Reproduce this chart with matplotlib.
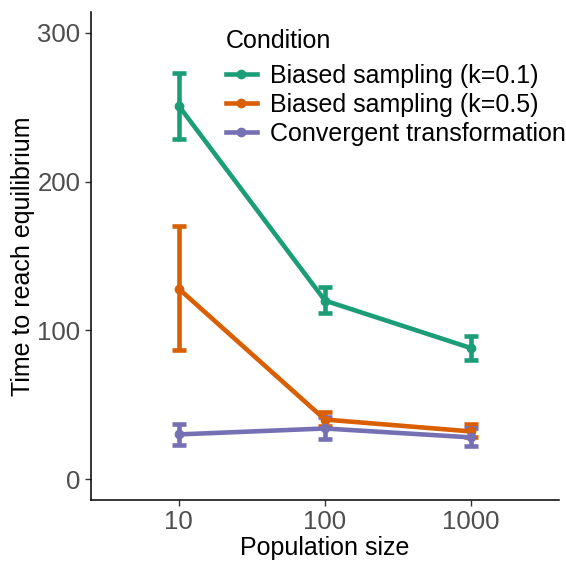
import matplotlib.pyplot as plt
from matplotlib.lines import Line2D

plt.rcParams['font.family'] = ['Liberation Sans', 'DejaVu Sans']

sizes = ['10', '100', '1000']
conditions = ['Biased sampling (k=0.1)', 'Biased sampling (k=0.5)',
              'Convergent transformation']
colors = ['#1B9E77', '#D95F02', '#7570B3']

# mean, lower, upper per condition
means = [[251, 120, 88], [128, 40, 32], [30, 34, 28]]
lower = [[229, 112, 80], [87, 36, 28], [23, 27, 22]]
upper = [[273, 129, 96], [170, 45, 37], [37, 42, 34]]

fig = plt.figure(figsize=(5.66, 5.61), dpi=100)
ax = fig.add_axes([91/566, 61/561, 468/566, 488/561])

x = list(range(len(sizes)))
handles = []
for cond, col, m, lo, hi in zip(conditions, colors, means, lower, upper):
    err = [[mm - l for mm, l in zip(m, lo)], [h - mm for mm, h in zip(m, hi)]]
    ax.errorbar(x, m, yerr=err, fmt='none', ecolor=col, elinewidth=3.3,
                capsize=5, capthick=3.3, zorder=2)
    ax.plot(x, m, color=col, lw=3.3, marker='o', ms=6, zorder=3)
    handles.append(Line2D([], [], color=col, lw=3.3, marker='o', ms=6))

ax.set_xlim(-0.6, 2.6)
ax.set_ylim(-14.1, 314.1)
ax.set_xticks(x)
ax.set_xticklabels(sizes)
ax.set_yticks([0, 100, 200, 300])
ax.tick_params(labelsize=18.5, colors='#333333', labelcolor='#4D4D4D',
               length=4, width=1)
for s in ['top', 'right']:
    ax.spines[s].set_visible(False)
for s in ['left', 'bottom']:
    ax.spines[s].set_linewidth(1.1)

ax.set_xlabel('Population size', fontsize=18, labelpad=1)
ax.set_ylabel('Time to reach equilibrium', fontsize=18, labelpad=2)

leg = fig.legend(handles, conditions, title='Condition', loc='upper left',
                 bbox_to_anchor=(213/566, 1 - 16/561), frameon=False,
                 fontsize=18, title_fontsize=18, handlelength=1.25,
                 labelspacing=0.2, handletextpad=0.55, borderpad=0,
                 alignment='left')
leg._legend_box.sep = 8

fig.savefig('out.png', dpi=100)
